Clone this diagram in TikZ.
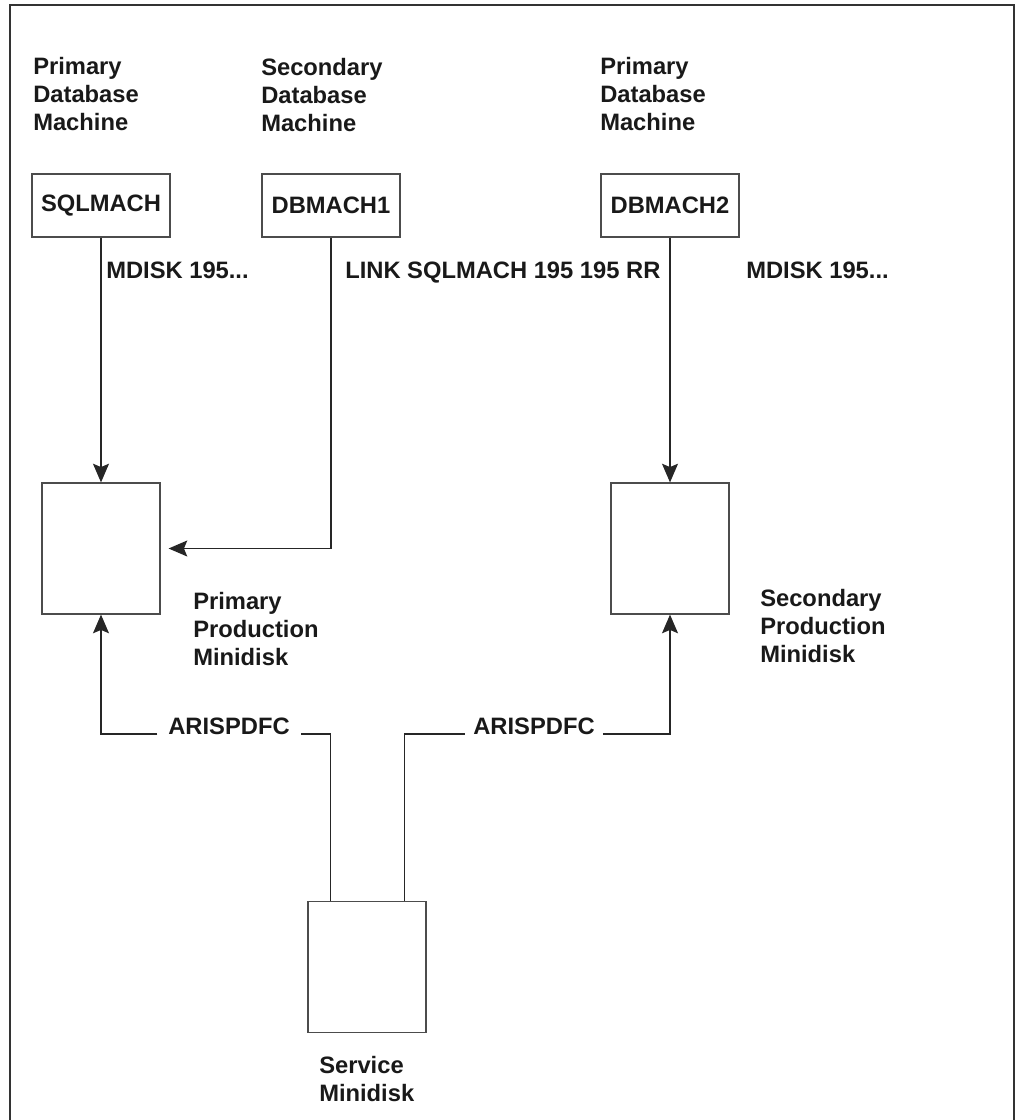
\documentclass[tikz,border=0pt]{standalone}
\usepackage{fontspec}
\setmainfont{Liberation Sans}
\usetikzlibrary{arrows.meta}

\begin{document}
\begin{tikzpicture}[
    x=0.75pt,y=-0.75pt,
    line cap=butt,
    line join=miter,
    >={Stealth[length=14pt,width=12pt,inset=2.5pt]},
    lbl/.style={inner sep=0pt,align=left,text=black!90,
      font=\fontsize{17.8}{21}\selectfont\bfseries},
    machbox/.style={draw=black!70,line width=0.9pt,inner sep=0pt,
      minimum width=103.5pt,minimum height=47.25pt,text=black!90,
      font=\fontsize{17.8}{21}\selectfont\bfseries},
    diskbox/.style={draw=black!70,line width=0.9pt,
      minimum width=88.5pt,minimum height=98.25pt},
    link/.style={draw=black!85,line width=0.9pt},
]
\useasboundingbox (0,0) rectangle (1016,1120);
% frame
\draw[black!80,line width=1.1pt] (10,1120) -- (10,5) -- (1014,5) -- (1014,1120);

% machines
\node[machbox] (sqlmach) at (101,205.5) {SQLMACH};
\node[machbox] (dbmach1) at (331,205.5) {DBMACH1};
\node[machbox] (dbmach2) at (670,205.5) {DBMACH2};
\node[lbl,anchor=north west] (prihead) at (33,57) {Primary\\Database\\Machine};
\node[lbl,anchor=north west] (sechead) at (261,58) {Secondary\\Database\\Machine};
\node[lbl,anchor=north west] (pri2head) at (600,57) {Primary\\Database\\Machine};

% minidisks
\node[diskbox] (pridisk) at (101,548.5) {};
\node[diskbox] (secdisk) at (670,548.5) {};
\node[diskbox] (svcdisk) at (367,967) {};
\node[lbl,anchor=north west] (prilbl) at (193,592) {Primary\\Production\\Minidisk};
\node[lbl,anchor=north west] (seclbl) at (760,589) {Secondary\\Production\\Minidisk};
\node[lbl,anchor=north west] (svclbl) at (319,1056) {Service\\Minidisk};

% link commands
\node[lbl,anchor=north west] (mdiskL) at (106,262) {MDISK 195...};
\node[lbl,anchor=north west] (linkcmd) at (345,262) {LINK SQLMACH 195 195 RR};
\node[lbl,anchor=north west] (mdiskR) at (746,262) {MDISK 195...};

% connectors
\draw[link,->] (sqlmach.south) -- (pridisk.north);
\draw[link,->] (dbmach2.south) -- (secdisk.north);
\draw[link,->,shorten >=6pt] (dbmach1.south) |- (pridisk.east);

% service minidisk feeds
\node[lbl,anchor=base,inner xsep=8pt] (arisL) at (229,734) {ARISPDFC};
\node[lbl,anchor=base,inner xsep=6pt] (arisR) at (534,734) {ARISPDFC};
\draw[link] ([xshift=17.25pt]svcdisk.north west) |- (arisL.base east);
\draw[link,->] (arisL.base west) -| (pridisk.south);
\draw[link] ([xshift=-16.5pt]svcdisk.north east) |- (arisR.base west);
\draw[link,->] (arisR.base east) -| (secdisk.south);
\end{tikzpicture}
\end{document}
